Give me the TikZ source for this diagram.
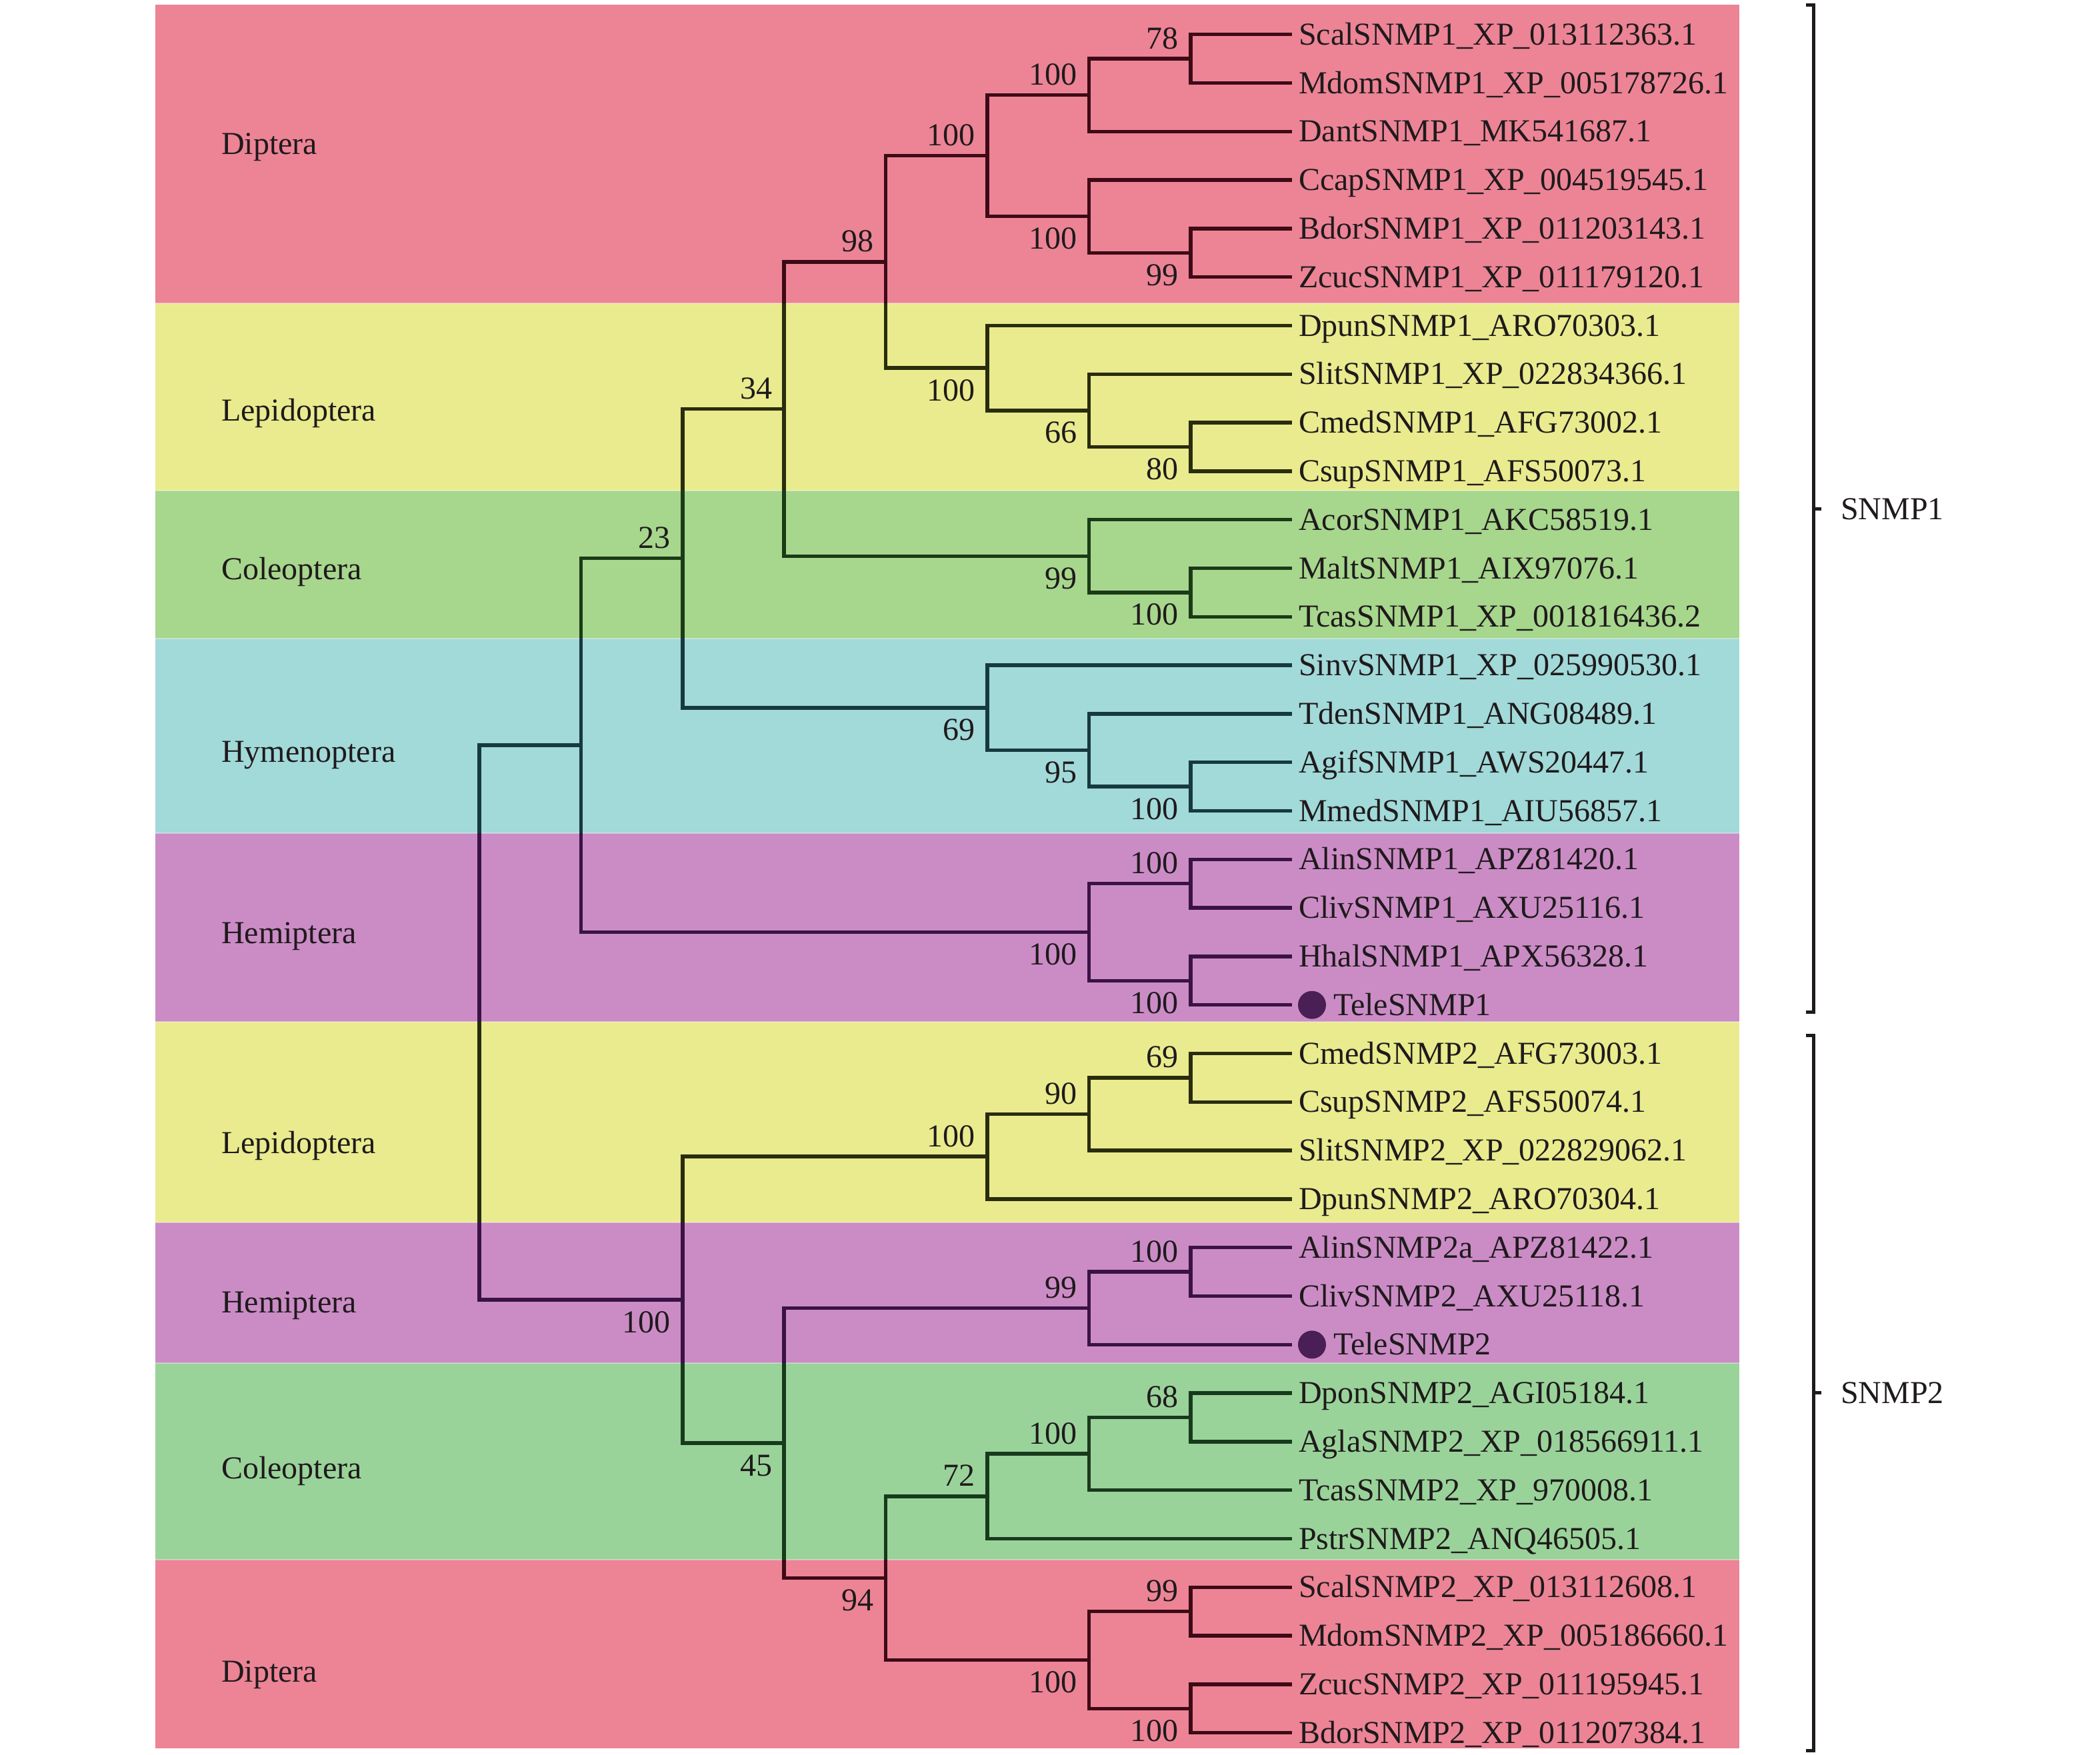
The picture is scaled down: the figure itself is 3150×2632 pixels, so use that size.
\documentclass[tikz,border=0pt]{standalone}
\usepackage{fontspec}
\setmainfont{Liberation Serif}
\definecolor{bpink}{HTML}{EC8496}
\definecolor{byel}{HTML}{E9EB8E}
\definecolor{bgreenA}{HTML}{A7D68D}
\definecolor{bcyan}{HTML}{A2D9D9}
\definecolor{bpurp}{HTML}{CB8CC6}
\definecolor{bgreenB}{HTML}{9AD39A}
\definecolor{lpink}{HTML}{3D0A16}
\definecolor{lyel}{HTML}{2A2C0E}
\definecolor{lgreenA}{HTML}{1B3A17}
\definecolor{lcyan}{HTML}{163A3F}
\definecolor{lpurp}{HTML}{3A1246}
\definecolor{lgreenB}{HTML}{183A1C}
\definecolor{txt}{HTML}{1F1A1C}
\definecolor{dotc}{HTML}{4A1F55}
\newcommand\PX[1]{719+152.4*(#1)}
\newcommand\PY[1]{51.7+72.8*(#1)}
\newcommand\edgelist{r/nS1, r/nS2,
 nS1/n23, nS1/n100p, n23/n34, n23/n69, n34/nDL, n34/nCol1,
 nDL/nDip1, nDL/nLep1, nDip1/nA, nDip1/nB, nA/n78, nA/L2, n78/L0, n78/L1,
 nB/L3, nB/n99a, n99a/L4, n99a/L5, nLep1/L6, nLep1/n66, n66/L7, n66/n80, n80/L8, n80/L9,
 nCol1/L10, nCol1/n100c, n100c/L11, n100c/L12,
 n69/L13, n69/n95, n95/L14, n95/n100h, n100h/L15, n100h/L16,
 n100p/n100pa, n100p/n100pb, n100pa/L17, n100pa/L18, n100pb/L19, n100pb/L20,
 nS2/nLep2, nS2/n45, nLep2/n90, nLep2/L24, n90/n69b, n90/L23, n69b/L21, n69b/L22,
 n45/n99q, n45/n94, n99q/n100q, n99q/L27, n100q/L25, n100q/L26,
 n94/n72, n94/n100t, n72/n100r, n72/L31, n100r/n68, n100r/L30, n68/L28, n68/L29,
 n100t/n99s, n100t/n100s, n99s/L32, n99s/L33, n100s/L34, n100s/L35}
\begin{document}
\begin{tikzpicture}[x=1pt,y=-1pt,font=\fontsize{48}{56}\selectfont,
  leaflab/.style={anchor=base west,inner sep=0pt,text=txt},
  bsa/.style={anchor=base east,inner sep=0pt,text=txt},
  grp/.style={anchor=base west,inner sep=0pt,text=txt},
  branch/.style={line width=5.5pt,line cap=butt,line join=miter},
  brk/.style={line width=5pt,draw=txt,line cap=butt,line join=miter}]
\useasboundingbox (0,0) rectangle (3150,2632);
% bands
\foreach \t/\b/\c in {7/455/bpink, 455/735.7/byel, 735.7/957.7/bgreenA, 957.7/1250/bcyan,
  1250/1532.5/bpurp, 1532.5/1834/byel, 1834/2045/bpurp, 2045/2340/bgreenB, 2340/2623/bpink}
  {\fill[\c] (232.7,\t) rectangle (2608.6,\b);}
\foreach \t in {455,735.7,957.7,1250,1532.5,1834,2045,2340}
  {\draw[white,opacity=0.35,line width=2pt] (232.7,\t) -- (2608.6,\t);}
% leaves
\foreach \i in {0,...,35} {\coordinate (L\i) at ({\PX{8}},{\PY{\i}});}
% internal nodes
\foreach \n/\lv/\yy in {n78/7/0.5, nA/6/1.25, n99a/7/4.5, nB/6/3.75, nDip1/5/2.5,
  n80/7/8.5, n66/6/7.75, nLep1/5/6.875, nDL/4/4.6875, n100c/7/11.5, nCol1/6/10.75,
  n34/3/7.71875, n100h/7/15.5, n95/6/14.75, n69/5/13.875, n23/2/10.796875,
  n100pa/7/17.5, n100pb/7/19.5, n100p/6/18.5, nS1/1/14.6484375,
  n69b/7/21.5, n90/6/22.25, nLep2/5/23.125, n100q/7/25.5, n99q/6/26.25,
  n68/7/28.5, n100r/6/29.25, n72/5/30.125, n99s/7/32.5, n100s/7/34.5, n100t/6/33.5,
  n94/4/31.8125, n45/3/29.03125, nS2/2/26.078125, r/0/20.36328125}
  {\coordinate (\n) at ({\PX{\lv}},{\PY{\yy}});}
% branches, coloured by band
\foreach \t/\b/\lc in {7/455/lpink, 455/735.7/lyel, 735.7/957.7/lgreenA, 957.7/1250/lcyan,
  1250/1532.5/lpurp, 1532.5/1834/lyel, 1834/2045/lpurp, 2045/2340/lgreenB, 2340/2623/lpink}
  {\begin{scope}
   \clip (232.7,\t) rectangle (2608.6,\b);
   \foreach \p/\c in \edgelist {\draw[branch,draw=\lc] (\p) |- (\c);}
   \end{scope}}
% markers
\coordinate (d1) at ({1968},{\PY{20}});
\coordinate (d2) at ({1968},{\PY{27}});
\fill[dotc] (d1) circle[radius=21];
\fill[dotc] (d2) circle[radius=21];
% leaf labels
\foreach \i/\s in {0/ScalSNMP1\_XP\_013112363.1, 1/MdomSNMP1\_XP\_005178726.1,
  2/DantSNMP1\_MK541687.1, 3/CcapSNMP1\_XP\_004519545.1, 4/BdorSNMP1\_XP\_011203143.1,
  5/ZcucSNMP1\_XP\_011179120.1, 6/DpunSNMP1\_ARO70303.1, 7/SlitSNMP1\_XP\_022834366.1,
  8/CmedSNMP1\_AFG73002.1, 9/CsupSNMP1\_AFS50073.1, 10/AcorSNMP1\_AKC58519.1,
  11/MaltSNMP1\_AIX97076.1, 12/TcasSNMP1\_XP\_001816436.2, 13/SinvSNMP1\_XP\_025990530.1,
  14/TdenSNMP1\_ANG08489.1, 15/AgifSNMP1\_AWS20447.1, 16/MmedSNMP1\_AIU56857.1,
  17/AlinSNMP1\_APZ81420.1, 18/ClivSNMP1\_AXU25116.1, 19/HhalSNMP1\_APX56328.1,
  21/CmedSNMP2\_AFG73003.1, 22/CsupSNMP2\_AFS50074.1, 23/SlitSNMP2\_XP\_022829062.1,
  24/DpunSNMP2\_ARO70304.1, 25/AlinSNMP2a\_APZ81422.1, 26/ClivSNMP2\_AXU25118.1,
  28/DponSNMP2\_AGI05184.1, 29/AglaSNMP2\_XP\_018566911.1, 30/TcasSNMP2\_XP\_970008.1,
  31/PstrSNMP2\_ANQ46505.1, 32/ScalSNMP2\_XP\_013112608.1, 33/MdomSNMP2\_XP\_005186660.1,
  34/ZcucSNMP2\_XP\_011195945.1, 35/BdorSNMP2\_XP\_011207384.1}
  {\node[leaflab] (t\i) at ({1948},{\PY{\i}+15.5}) {\s};}
\node[leaflab] (t20) at ({2000},{\PY{20}+15.5}) {TeleSNMP1};
\node[leaflab] (t27) at ({2000},{\PY{27}+15.5}) {TeleSNMP2};
% bootstrap values
\foreach \n/\v/\s in {n78/78/15, nA/100/15, n99a/99/-49, nB/100/-49, nDip1/100/15,
  n80/80/-49, n66/66/-49, nLep1/100/-49, nDL/98/15, n100c/100/-49, nCol1/99/-49,
  n34/34/15, n100h/100/-49, n95/95/-49, n69/69/-49, n23/23/15,
  n100pa/100/15, n100pb/100/-49, n100p/100/-49,
  n69b/69/15, n90/90/15, nLep2/100/15, n100q/100/15, n99q/99/15,
  n68/68/15, n100r/100/15, n72/72/15, n99s/99/15, n100s/100/-49, n100t/100/-49,
  n94/94/-49, n45/45/-49, nS2/100/-49}
  {\node[bsa] (v\n) at ([xshift=-18pt,yshift=\s pt]\n) {\v};}
% group labels
\node[grp] (g1) at (332,231) {Diptera};
\node[grp] (g2) at (332,631) {Lepidoptera};
\node[grp] (g3) at (332,869) {Coleoptera};
\node[grp] (g4) at (332,1143) {Hymenoptera};
\node[grp] (g5) at (332,1415) {Hemiptera};
\node[grp] (g6) at (332,1730) {Lepidoptera};
\node[grp] (g7) at (332,1969) {Hemiptera};
\node[grp] (g8) at (332,2218) {Coleoptera};
\node[grp] (g9) at (332,2523) {Diptera};
% brackets
\coordinate (a1) at (2709,7);  \coordinate (a2) at (2720,7);
\coordinate (a3) at (2720,1518); \coordinate (a4) at (2709,1518);
\coordinate (am) at (2720,763); \coordinate (at) at (2732,763);
\draw[brk] (a1) -- (a2) -- (a3) -- (a4);
\draw[brk] (am) -- (at);
\coordinate (c1) at (2709,1553); \coordinate (c2) at (2720,1553);
\coordinate (c3) at (2720,2626); \coordinate (c4) at (2709,2626);
\coordinate (cm) at (2720,2089); \coordinate (ct) at (2732,2089);
\draw[brk] (c1) -- (c2) -- (c3) -- (c4);
\draw[brk] (cm) -- (ct);
\node[grp] (s1) at (2761,779) {SNMP1};
\node[grp] (s2) at (2761,2105) {SNMP2};
\end{tikzpicture}
\end{document}
